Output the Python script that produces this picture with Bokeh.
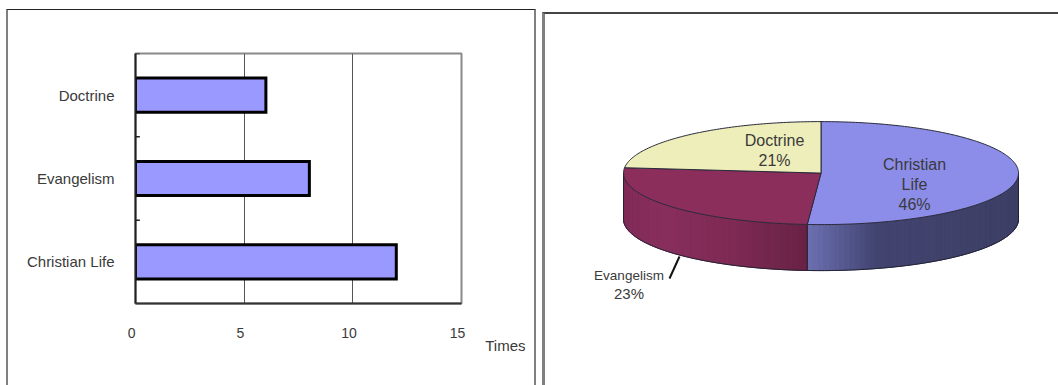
import math

from bokeh.core.properties import value
from bokeh.embed import file_html
from bokeh.layouts import row
from bokeh.models import FixedTicker, Range1d, Title
from bokeh.plotting import figure
from bokeh.resources import INLINE

# Survey figures
bar_categories = ["Christian Life", "Evangelism", "Doctrine"]
bar_values = [12, 8, 6]
bar_ticks = [0, 5, 10, 15]
bar_unit = "Times"

pie_names = ["Christian Life", "Evangelism", "Doctrine"]
pie_percent = [46, 23, 21]

FONT = "Liberation Sans"
TEXT = "#3a3a3a"
BORDER_GRAY = "#808080"

# ---- horizontal bars ----
bars = figure(
    width=526, height=375, output_backend="svg", toolbar_location=None,
    x_range=Range1d(0, 15), y_range=bar_categories, frame_align=False,
    min_border_left=127, min_border_right=77, min_border_top=43, min_border_bottom=83,
    background_fill_color="white", border_fill_color="white",
    margin=(9, 0, 0, 6),
    styles={
        "border-left": f"2px solid {BORDER_GRAY}",
        "border-right": f"2px solid {BORDER_GRAY}",
        "border-top": "1px solid #222222",
        "box-sizing": "content-box",
    },
)
bars.hbar(y=bar_categories, right=bar_values, left=0, height=0.41,
          fill_color="#9999ff", line_color="black", line_width=3, line_join="miter")

bars.xgrid.ticker = FixedTicker(ticks=bar_ticks)
bars.xgrid.grid_line_color = "#555555"
bars.xgrid.grid_line_width = 1
bars.ygrid.visible = False
bars.outline_line_color = "#8a8a8a"
bars.outline_line_width = 2

bars.xaxis.ticker = FixedTicker(ticks=bar_ticks)
# Trailing no-break spaces nudge the numbers slightly left of their ticks
bars.xaxis.major_label_overrides = {t: f"{t}\u00a0\u00a0" for t in bar_ticks}
bars.xaxis.major_label_standoff = 15
bars.xaxis.major_tick_line_color = None
bars.xaxis.minor_tick_line_color = None
bars.xaxis.axis_line_color = "#333333"
bars.xaxis.axis_line_width = 2
bars.xaxis.major_label_text_font = FONT
bars.xaxis.major_label_text_font_size = "14px"
bars.xaxis.major_label_text_color = TEXT

bars.yaxis.major_tick_line_color = None
bars.yaxis.axis_line_color = "#222222"
bars.yaxis.axis_line_width = 2
bars.yaxis.major_label_standoff = 15
bars.yaxis.major_label_text_font = FONT
bars.yaxis.major_label_text_font_size = "15px"
bars.yaxis.major_label_text_color = TEXT

# Short inward ticks on the band boundaries of the category axis
for name in bar_categories:
    bars.segment(x0=[0], x1=[0.2], y0=[(name, 0.5)], y1=[(name, 0.5)],
                 line_color="#222222", line_width=1.5)

# Unit caption to the right of the last tick number
bars.add_layout(Title(
    text=bar_unit, align="right", offset=-64, standoff=-18,
    text_font=FONT, text_font_size="15px", text_font_style="normal", text_color=TEXT,
), "below")

# ---- tilted pie ----
X0, X1, Y0, Y1 = 545, 1058, 14, 385
RX, RY, DEPTH = 197.5, 51.5, 46
CX, CY = 820.5, 172.6

pie = figure(
    width=X1 - X0, height=Y1 - Y0, output_backend="svg", toolbar_location=None,
    # The frame also spans the host's border widths, so the ranges cover them too
    x_range=Range1d(X0, X1 + 3), y_range=Range1d(Y1 + 2, Y0), frame_align=False,
    min_border=0, background_fill_color="white", border_fill_color="white",
    margin=(12, 0, 0, 6),
    styles={
        "border-left": f"3px solid {BORDER_GRAY}",
        "border-top": "2px solid #444444",
        "box-sizing": "content-box",
    },
)
pie.axis.visible = False
pie.grid.visible = False
pie.outline_line_color = None

total = sum(pie_percent)
edges = [0.0]
for share in pie_percent:
    edges.append(edges[-1] + 360.0 * share / total)


def rim(angle, drop=0.0):
    a = math.radians(angle)
    return CX + RX * math.sin(a), CY - RY * math.cos(a) + drop


def sweep(start, stop, step=1.0):
    n = max(2, int(abs(stop - start) / step) + 1)
    return [start + (stop - start) * i / (n - 1) for i in range(n)]


def mix(stops, t):
    for (t0, c0), (t1, c1) in zip(stops, stops[1:]):
        if t <= t1:
            f = (t - t0) / (t1 - t0) if t1 > t0 else 0
            return "#%02x%02x%02x" % tuple(round(a + (b - a) * f) for a, b in zip(c0, c1))
    return "#%02x%02x%02x" % stops[-1][1]


# Wall shading runs along x, from the left end of each wall to its right end
blue_wall = [(0.0, (108, 112, 178)), (0.32, (66, 68, 112)), (1.0, (60, 62, 100))]
maroon_wall = [(0.0, (128, 42, 88)), (0.22, (136, 46, 92)), (0.6, (125, 42, 84)), (1.0, (104, 34, 68))]

for start, stop, stops in [(90.0, edges[1], blue_wall), (edges[1], 270.0, maroon_wall)]:
    lo, hi = sorted((rim(start)[0], rim(stop)[0]))
    angles = sweep(start, stop, 1.5)
    for a0, a1 in zip(angles[:-1], angles[1:]):
        x0, y0 = rim(a0)
        x1, y1 = rim(a1)
        x2, y2 = rim(a1, DEPTH)
        x3, y3 = rim(a0, DEPTH)
        c = mix(stops, ((x0 + x1) / 2 - lo) / (hi - lo))
        pie.patch([x0, x1, x2, x3], [y0, y1, y2, y3], fill_color=c, line_color=c, line_width=1)

# Wall outlines
for a in (90.0, edges[1], 270.0):
    pie.line([rim(a)[0], rim(a, DEPTH)[0]], [rim(a)[1], rim(a, DEPTH)[1]],
             line_color="#222233", line_width=1)
front = sweep(90, 270)
pie.line([rim(a, DEPTH)[0] for a in front], [rim(a, DEPTH)[1] for a in front],
         line_color="#222233", line_width=1)

# Top faces
top_colours = ["#8c8ce9", "#8b2e5b", "#eeeebb"]
for start, stop, colour in zip(edges[:-1], edges[1:], top_colours):
    arc = sweep(start, stop)
    xs = [CX] + [rim(a)[0] for a in arc]
    ys = [CY] + [rim(a)[1] for a in arc]
    pie.patch(xs, ys, fill_color=colour, line_color="#2a2a3a", line_width=1)

# Slice labels
label_lines = [
    (["Christian", "Life", f"{pie_percent[0]}%"], 914, 164, "16px"),
    (["Evangelism"], 628.5, 275, "13.5px"),
    ([f"{pie_percent[1]}%"], 628.5, 293, "15px"),
    (["Doctrine", f"{pie_percent[2]}%"], 774, 140, "16px"),
]
for lines, x, y, size in label_lines:
    pie.text(x=[x] * len(lines), y=[y + 20 * i for i in range(len(lines))], text=lines,
             text_font=value(FONT), text_font_size=value(size), text_color=TEXT,
             text_align="center", text_baseline="middle")

# Leader from the Evangelism wall down to its label
pie.line([679, 669], [256, 278], line_color="#111111", line_width=2)

open("out.html", "w").write(file_html(row(bars, pie, spacing=0), INLINE))
